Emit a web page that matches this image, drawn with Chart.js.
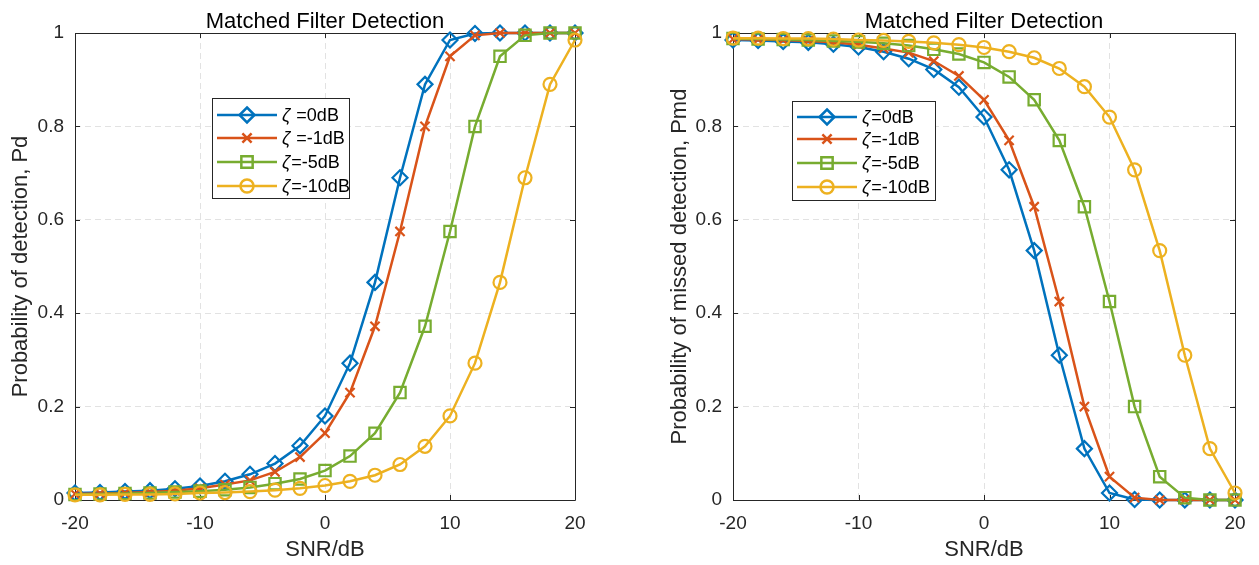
<!DOCTYPE html>
<html>
<head>
<meta charset="utf-8">
<script src="https://cdn.jsdelivr.net/npm/chart.js@4.4.1/dist/chart.umd.min.js"></script>
<style>
    body { margin: 0; background: #fff; }
    #wrap { display: flex; width: 1259px; height: 565px; }
    .box { position: relative; height: 565px; }
</style>
</head>
<body>
<div id="wrap">
    <div class="box" style="width:629px"><canvas id="pdChart"></canvas></div>
    <div class="box" style="width:630px"><canvas id="pmdChart"></canvas></div>
</div>
<script>
// ================= Data =================
const snr = [-20, -18, -16, -14, -12, -10, -8, -6, -4, -2, 0, 2, 4, 6, 8, 10, 12, 14, 16, 18, 20];

// probability of detection
const pd0 = [0.015, 0.016, 0.018, 0.020, 0.024, 0.030, 0.040, 0.055, 0.078, 0.116, 0.180, 0.293, 0.466, 0.690, 0.890, 0.985, 0.999, 1, 1, 1, 1];
const pd1 = [0.013, 0.014, 0.015, 0.017, 0.020, 0.025, 0.033, 0.042, 0.060, 0.092, 0.143, 0.230, 0.372, 0.575, 0.800, 0.950, 0.995, 1, 1, 1, 1];
const pd5 = [0.012, 0.013, 0.014, 0.015, 0.017, 0.019, 0.022, 0.027, 0.035, 0.045, 0.063, 0.094, 0.143, 0.230, 0.372, 0.575, 0.800, 0.950, 0.995, 1, 1];
const pd10 = [0.011, 0.011, 0.012, 0.012, 0.013, 0.015, 0.016, 0.018, 0.021, 0.025, 0.031, 0.040, 0.053, 0.076, 0.115, 0.180, 0.293, 0.466, 0.690, 0.890, 0.985];

// probability of missed detection
const pmd0 = [0.985, 0.984, 0.982, 0.980, 0.976, 0.970, 0.960, 0.945, 0.922, 0.884, 0.820, 0.707, 0.534, 0.310, 0.110, 0.015, 0.001, 0, 0, 0, 0];
const pmd1 = [0.987, 0.986, 0.985, 0.983, 0.980, 0.975, 0.967, 0.958, 0.940, 0.908, 0.857, 0.770, 0.628, 0.425, 0.200, 0.050, 0.005, 0, 0, 0, 0];
const pmd5 = [0.988, 0.987, 0.986, 0.985, 0.983, 0.981, 0.978, 0.973, 0.965, 0.955, 0.937, 0.906, 0.857, 0.770, 0.628, 0.425, 0.200, 0.050, 0.005, 0, 0];
const pmd10 = [0.989, 0.989, 0.988, 0.988, 0.987, 0.985, 0.984, 0.982, 0.979, 0.975, 0.969, 0.960, 0.947, 0.924, 0.885, 0.820, 0.707, 0.534, 0.310, 0.110, 0.015];

const pdLabels = ['\u03b6 =0dB', '\u03b6 =-1dB', '\u03b6=-5dB', '\u03b6=-10dB'];
const pmdLabels = ['\u03b6=0dB', '\u03b6=-1dB', '\u03b6=-5dB', '\u03b6=-10dB'];

const colors = ['#0072BD', '#D95319', '#77AC30', '#EDB120'];
const markers = ['rectRot', 'crossRot', 'rect', 'circle'];
const markerSize = [7.5, 6.5, 8, 6.5];

const FONT = '"Liberation Sans", Arial, Helvetica, sans-serif';
const INK = '#262626';

// ================= Helpers =================
function makeSeries(x, y) {
    return x.map((v, i) => ({ x: v, y: y[i] }));
}

function drawMarker(ctx, style, x, y, r) {
    ctx.beginPath();
    if (style === 'circle') {
        ctx.arc(x, y, r, 0, Math.PI * 2);
    } else if (style === 'rect') {
        const s = r * Math.SQRT1_2;
        ctx.rect(x - s, y - s, 2 * s, 2 * s);
    } else if (style === 'rectRot') {
        ctx.moveTo(x, y - r); ctx.lineTo(x + r, y); ctx.lineTo(x, y + r); ctx.lineTo(x - r, y); ctx.closePath();
    } else if (style === 'crossRot') {
        const s = r * Math.SQRT1_2;
        ctx.moveTo(x - s, y - s); ctx.lineTo(x + s, y + s);
        ctx.moveTo(x + s, y - s); ctx.lineTo(x - s, y + s);
    }
    ctx.stroke();
}

// frame, inward ticks, title and legend like the matlab figure
const matlabBox = {
    id: 'matlabBox',
    beforeDatasetsDraw(chart) {
        const { ctx, chartArea: a, scales: { x, y } } = chart;
        ctx.save();
        ctx.strokeStyle = INK;
        ctx.lineWidth = 1;
        ctx.beginPath();
        ctx.rect(Math.round(a.left) + 0.5, Math.round(a.top) + 0.5, Math.round(a.right - a.left), Math.round(a.bottom - a.top));
        x.ticks.forEach(t => {
            const px = Math.round(x.getPixelForValue(t.value)) + 0.5;
            ctx.moveTo(px, a.bottom); ctx.lineTo(px, a.bottom - 5);
            ctx.moveTo(px, a.top); ctx.lineTo(px, a.top + 5);
        });
        y.ticks.forEach(t => {
            const py = Math.round(y.getPixelForValue(t.value)) + 0.5;
            ctx.moveTo(a.left, py); ctx.lineTo(a.left + 5, py);
            ctx.moveTo(a.right, py); ctx.lineTo(a.right - 5, py);
        });
        ctx.stroke();
        ctx.restore();
    },
    afterDatasetsDraw(chart, args, opts) {
        const { ctx, chartArea: a } = chart;
        ctx.save();
        ctx.fillStyle = '#000';
        ctx.font = '22px ' + FONT;
        ctx.textAlign = 'center';
        ctx.textBaseline = 'alphabetic';
        ctx.fillText(opts.title, (a.left + a.right) / 2, 28);

        const L = opts.legend;
        ctx.fillStyle = '#fff';
        ctx.fillRect(L.x, L.y, L.w, L.h);
        ctx.strokeStyle = INK;
        ctx.lineWidth = 1;
        ctx.strokeRect(L.x + 0.5, L.y + 0.5, L.w, L.h);
        chart.data.datasets.forEach((ds, i) => {
            const ry = L.rows[i];
            ctx.strokeStyle = ds.borderColor;
            ctx.lineWidth = ds.borderWidth;
            ctx.beginPath();
            ctx.moveTo(L.lineX1, ry); ctx.lineTo(L.lineX2, ry);
            ctx.stroke();
            drawMarker(ctx, ds.pointStyle, (L.lineX1 + L.lineX2) / 2, ry, ds.pointRadius);
            const label = ds.label;
            ctx.fillStyle = '#000';
            ctx.textAlign = 'left';
            ctx.textBaseline = 'middle';
            ctx.font = 'italic 18px ' + FONT;
            const zeta = label.charAt(0);
            ctx.fillText(zeta, L.textX, ry + 1);
            const w = ctx.measureText(zeta).width;
            ctx.font = '18px ' + FONT;
            ctx.fillText(label.slice(1), L.textX + w + 1, ry + 1);
        });
        ctx.restore();
    }
};

function buildDatasets(series, labels) {
    return series.map((s, i) => ({
        label: labels[i],
        data: makeSeries(snr, s),
        borderColor: colors[i],
        backgroundColor: 'rgba(0,0,0,0)',
        borderWidth: 2.5,
        pointStyle: markers[i],
        pointRadius: markerSize[i],
        pointBorderWidth: 2.2,
        pointBackgroundColor: 'rgba(0,0,0,0)',
        pointBorderColor: colors[i],
        tension: 0,
        clip: false,
        order: 4 - i
    }));
}

function makeChart(id, series, labels, yTitle, yWidth, padRight, titlePad, legend) {
    const ctx = document.getElementById(id).getContext('2d');
    return new Chart(ctx, {
        type: 'line',
        data: { datasets: buildDatasets(series, labels) },
        options: {
            responsive: true,
            maintainAspectRatio: false,
            animation: false,
            layout: { padding: { top: 33, right: padRight, left: 0, bottom: 0 } },
            plugins: {
                legend: { display: false },
                tooltip: { enabled: false },
                matlabBox: { title: 'Matched Filter Detection', legend: legend }
            },
            scales: {
                x: {
                    type: 'linear', min: -20, max: 20,
                    afterFit: s => { s.height = 65; },
                    ticks: { stepSize: 10, color: INK, padding: 12, maxRotation: 0, font: { family: FONT, size: 19 } },
                    grid: { color: '#e2e2e2', lineWidth: 1, drawTicks: false },
                    border: { display: false, dash: [6, 4] },
                    title: { display: true, text: 'SNR/dB', color: INK, padding: { top: 0, bottom: 2 }, font: { family: FONT, size: 22 } }
                },
                y: {
                    type: 'linear', min: 0, max: 1,
                    afterFit: s => { s.width = yWidth; },
                    ticks: { stepSize: 0.2, color: INK, padding: 11, font: { family: FONT, size: 19 },
                        callback: v => String(+v.toFixed(1)) },
                    grid: { color: '#e2e2e2', lineWidth: 1, drawTicks: false },
                    border: { display: false, dash: [6, 4] },
                    title: { display: true, text: yTitle, color: INK, padding: { top: titlePad, bottom: 0 }, font: { family: FONT, size: 22 } }
                }
            }
        },
        plugins: [matlabBox]
    });
}

// ================= Init =================
makeChart('pdChart', [pd0, pd1, pd5, pd10], pdLabels, 'Probability of detection, Pd', 75, 54, 8,
    { x: 212, y: 98, w: 137, h: 100, lineX1: 217, lineX2: 277, textX: 282, rows: [115, 138, 162, 186] });
makeChart('pmdChart', [pmd0, pmd1, pmd5, pmd10], pmdLabels, 'Probability of missed detection, Pmd', 104, 24, 38,
    { x: 163, y: 101, w: 143, h: 99, lineX1: 168, lineX2: 228, textX: 233, rows: [117, 139, 163, 187] });
</script>
</body>
</html>
